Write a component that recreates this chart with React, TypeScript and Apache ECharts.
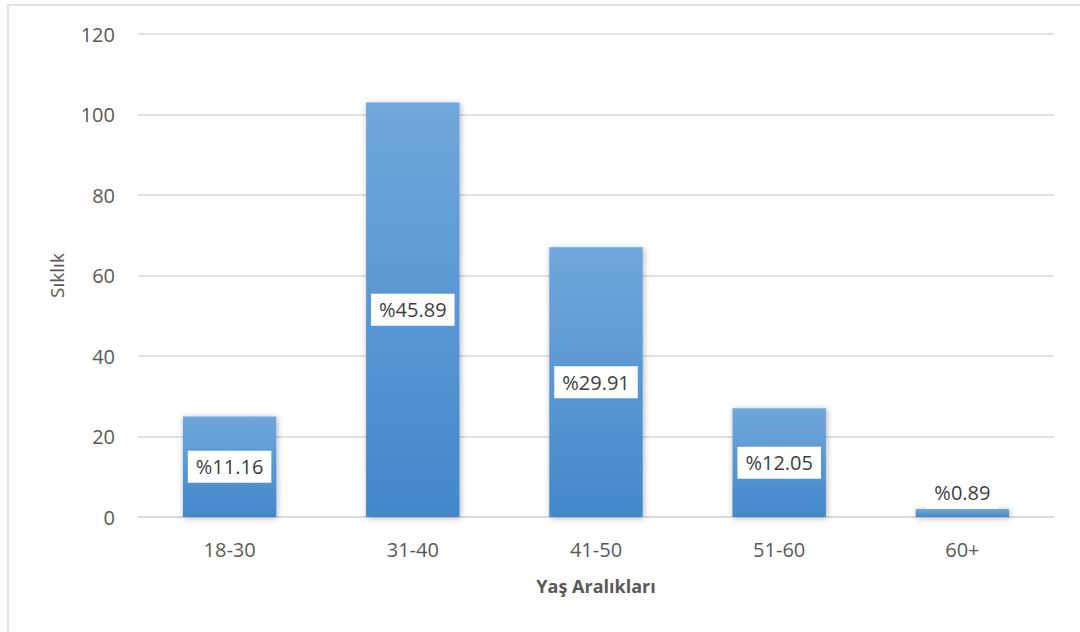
import React, { useEffect, useRef } from "react";
import * as echarts from "echarts";

const categories = ["18-30", "31-40", "41-50", "51-60", "60+"];
const frequencies = [25, 103, 67, 27, 2];
const percentLabels = ["%11.16", "%45.89", "%29.91", "%12.05", "%0.89"];
const yTicks = { min: 0, max: 120, interval: 20 };

export default function App() {
  const ref = useRef<HTMLDivElement>(null);
  useEffect(() => {
    if (!ref.current) return;
    const chart = echarts.init(ref.current, null, { renderer: "svg" });
    const font = "'Open Sans', 'Noto Sans', sans-serif";
    const gradient = new echarts.graphic.LinearGradient(0, 0, 0, 1, [
      { offset: 0, color: "#70a7dc" },
      { offset: 1, color: "#4288ca" },
    ]);
    chart.setOption({
      animation: false,
      backgroundColor: "#ffffff",
      textStyle: { fontFamily: font },
      graphic: [
        {
          type: "rect",
          shape: { x: 8, y: 5, width: 1200, height: 800 },
          style: { fill: "none", stroke: "#d9d9d9", lineWidth: 1.5 },
          silent: true,
        },
      ],
      grid: { left: 138, right: 26, top: 34, bottom: 115 },
      xAxis: {
        type: "category",
        data: categories,
        axisLine: { lineStyle: { color: "#d9d9d9", width: 1.5 } },
        axisTick: { show: false },
        axisLabel: { color: "#595959", fontSize: 20, margin: 22, fontFamily: font },
        name: "Yaş Aralıkları",
        nameLocation: "middle",
        nameGap: 60,
        nameTextStyle: { color: "#595959", fontSize: 18, fontWeight: "bold", fontFamily: font },
      },
      yAxis: {
        type: "value",
        min: yTicks.min,
        max: yTicks.max,
        interval: yTicks.interval,
        axisLine: { show: false },
        axisTick: { show: false },
        splitLine: { lineStyle: { color: "#d9d9d9", width: 1.5 } },
        axisLabel: { color: "#595959", fontSize: 20, margin: 23, fontFamily: font },
        name: "Sıklık",
        nameLocation: "middle",
        nameGap: 72,
        nameTextStyle: { color: "#595959", fontSize: 19, fontFamily: font },
      },
      series: [
        {
          type: "bar",
          barWidth: "51%",
          data: frequencies.map((v, i) => ({
            value: v,
            label: i === frequencies.length - 1 ? { position: "top", distance: 0 } : undefined,
          })),
          itemStyle: {
            color: gradient,
            shadowBlur: 6,
            shadowColor: "rgba(0,0,0,0.3)",
            shadowOffsetX: 1,
            shadowOffsetY: 1,
          },
          label: {
            show: true,
            position: "inside",
            formatter: (p: any) => percentLabels[p.dataIndex],
            color: "#404040",
            fontSize: 20,
            fontFamily: font,
            backgroundColor: "#ffffff",
            padding: [6, 8, 6, 8],
          },
        },
      ],
    });
    return () => chart.dispose();
  }, []);
  return (
    <div
      ref={ref}
      style={{ position: "absolute", left: 0, top: 0, width: 1080, height: 632 }}
    />
  );
}
